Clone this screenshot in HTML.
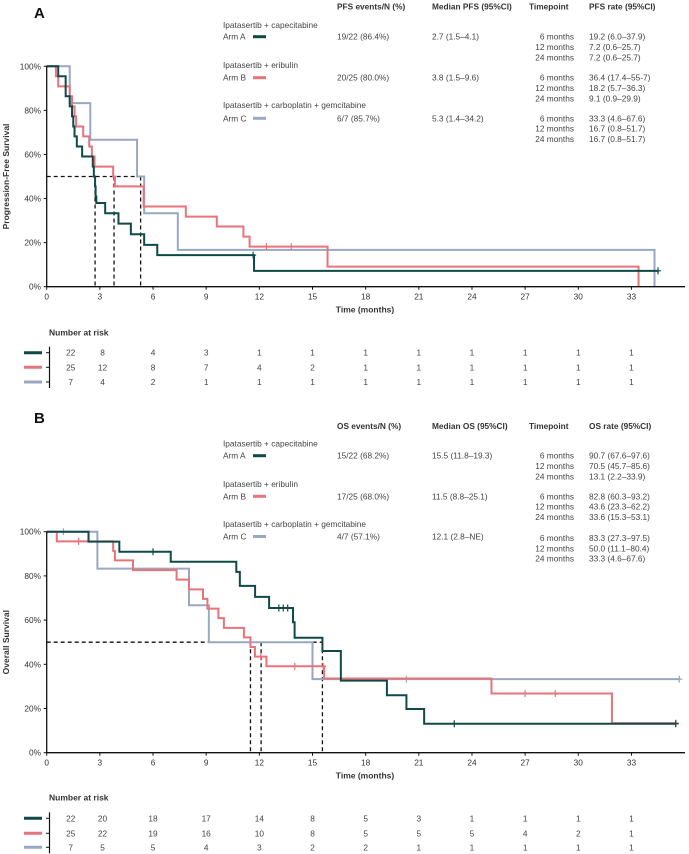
<!DOCTYPE html>
<html><head><meta charset="utf-8">
<style>
html,body{margin:0;padding:0;background:#fff;}
svg{display:block;font-family:"Liberation Sans",Arial,sans-serif;}
</style></head>
<body>
<svg id="fig" width="689" height="854" viewBox="0 0 689 854"></svg>
<script>
// ---------- DATA ----------
const xTicks = [0,3,6,9,12,15,18,21,24,27,30,33];
const yTicks = [0,20,40,60,80,100];
const riskMonths = [0.9,2.6,6,9,12,15,18,21,24,27,30,33];
const armNames = ["Arm A","Arm B","Arm C"];
const armLabels = ["Ipatasertib + capecitabine","Ipatasertib + eribulin","Ipatasertib + carboplatin + gemcitabine"];
const armColors = ["#0f4a47","#e8737b","#9aa7c2"];

// PFS step data: [time, survival after drop]
const pfsA = [[0,100],[0.65,95.5],[1.07,86.4],[1.3,81.8],[1.43,77.3],[1.5,72.7],[1.57,68.2],[1.7,63.6],[2.0,59.1],[2.6,54.5],[2.66,50],[2.73,45.5],[2.76,40.9],[2.8,38],[3.3,33.3],[4.05,28.6],[4.75,23.8],[5.5,19],[6.24,14.3],[11.7,7.2],[34.5,7.2]];
const pfsB = [[0,100],[0.52,95.5],[0.65,90.9],[1.3,86.4],[1.43,81.8],[1.57,77.3],[1.66,72.7],[2.06,68.2],[2.4,63.6],[2.55,59.1],[2.7,54.5],[3.75,50],[3.85,45.5],[5.47,36.4],[7.85,31.8],[9.6,27.3],[11.1,22.7],[11.45,18.2],[15.85,9.1],[33.4,0]];
const pfsC = [[0,100],[1.3,83.3],[2.46,66.7],[5.1,50],[5.5,33.3],[7.4,16.7],[34.3,0]];
const pfsCensA = [[11.65,14.3],[34.5,7.2]];
const pfsCensB = [[12.4,18.2],[13.8,18.2]];
const pfsCensC = [];
const pfsMedians = [2.73,3.8,5.3];
const pfsRiskA = [22,8,4,3,1,1,1,1,1,1,1,1];
const pfsRiskB = [25,12,8,7,4,2,1,1,1,1,1,1];
const pfsRiskC = [7,4,2,1,1,1,1,1,1,1,1,1];
const pfsEvents = ["19/22 (86.4%)","20/25 (80.0%)","6/7 (85.7%)"];
const pfsMedText = ["2.7 (1.5–4.1)","3.8 (1.5–9.6)","5.3 (1.4–34.2)"];
const pfsRates = [["19.2 (6.0–37.9)","7.2 (0.6–25.7)","7.2 (0.6–25.7)"],["36.4 (17.4–55-7)","18.2 (5.7–36.3)","9.1 (0.9–29.9)"],["33.3 (4.6–67.6)","16.7 (0.8–51.7)","16.7 (0.8–51.7)"]];

// OS step data
const osA = [[0,100],[2.36,95.5],[4.1,90.9],[7.0,86.4],[10.7,81.8],[10.9,75.5],[11.76,70.5],[12.55,65.5],[13.9,59],[13.99,52],[15.56,46],[16.6,32.6],[19.2,26],[20.3,19.8],[21.3,13.1],[35.5,13.1]];
const osB = [[0,100],[0.57,95.6],[3.75,91.3],[3.85,87],[4.87,82.6],[7.33,78.3],[8.03,73.9],[8.82,69.6],[9.07,65.2],[9.69,60.9],[10.0,56.5],[11.13,52.2],[11.5,47.8],[11.75,43.5],[12.4,39.1],[15.66,33.6],[25.1,26.8],[31.9,13.4],[35.5,13.4]];
const osC = [[0,100],[2.86,83.3],[8.03,66.7],[9.15,50],[15.0,33.3],[35.7,33.3]];
const osCensA = [[6.0,90.9],[13.1,65.5],[13.35,65.5],[13.6,65.5],[23.0,13.1],[35.5,13.1]];
const osCensB = [[1.8,95.6],[12.08,43.5],[14.0,39.1],[15.6,39.1],[27.0,26.8],[28.7,26.8],[35.5,13.4]];
const osCensC = [[0.94,100],[20.3,33.3],[35.7,33.3]];
const osMedians = [11.5,12.1,15.56];
const osRiskA = [22,20,18,17,14,8,5,3,1,1,1,1];
const osRiskB = [25,22,19,16,10,8,5,5,5,4,2,1];
const osRiskC = [7,5,5,4,3,2,2,1,1,1,1,1];
const osEvents = ["15/22 (68.2%)","17/25 (68.0%)","4/7 (57.1%)"];
const osMedText = ["15.5 (11.8–19.3)","11.5 (8.8–25.1)","12.1 (2.8–NE)"];
const osRates = [["90.7 (67.6–97.6)","70.5 (45.7–85.6)","13.1 (2.2–33.9)"],["82.8 (60.3–93.2)","43.6 (23.3–62.2)","33.6 (15.3–53.1)"],["83.3 (27.3–97.5)","50.0 (11.1–80.4)","33.3 (4.6–67.6)"]];
const timepoints = ["6 months","12 months","24 months"];

// ---------- DRAW ----------
const NS="http://www.w3.org/2000/svg";
const svg=document.getElementById('fig');
function mk(tag,attrs,parent,txt){const e=document.createElementNS(NS,tag);for(const k in attrs)e.setAttribute(k,attrs[k]);if(txt!==undefined)e.textContent=txt;(parent||svg).appendChild(e);return e;}

const X0=46.7, PXM=17.72;
function xs(m){return X0+m*PXM;}

function panel(cfg){
  const g=mk('g',{});
  
  
  const yTop=cfg.yTop, yBot=cfg.yBot;
  const ys=p=>yBot-(p/100)*(yBot-yTop);
  const L=mk('text',{x:34,y:cfg.letterY,'font-size':15,'font-weight':'bold',fill:'#111'},g,cfg.letter);
  
  
  const hdr=[[337,cfg.h1],[432,cfg.h2],[529,'Timepoint'],[589,cfg.h4]];
  hdr.forEach(h=>{const t=mk('text',{x:h[0],y:cfg.hdrY+3,'font-size':8.3,'font-weight':'bold',fill:'#333'},g,h[1]);
    
    });
  for(let i=0;i<3;i++){
    const ly=cfg.labelY[i], ay=cfg.armY[i], ry=cfg.rowY[i];
    const t1=mk('text',{x:223,y:ly+3,'font-size':8.3,fill:'#444'},g,armLabels[i]);
    
    
    const t2=mk('text',{x:223,y:ay+3,'font-size':8.3,fill:'#444'},g,armNames[i]);
    
    
    const ll=mk('line',{x1:253,x2:266,y1:ay,y2:ay,stroke:armColors[i],'stroke-width':3},g);
    
    
    const ev=mk('text',{x:337,y:ay+3,'font-size':8.3,fill:'#444'},g,cfg.events[i]);
    
    
    const md=mk('text',{x:432,y:ay+3,'font-size':8.3,fill:'#444'},g,cfg.med[i]);
    
    
    for(let k=0;k<3;k++){
      const yy=ry+k*10.3+3;
      const tp=mk('text',{x:574,y:yy,'font-size':8.3,fill:'#444','text-anchor':'end'},g,timepoints[k]);
      
      
      const rt=mk('text',{x:589,y:yy,'font-size':8.3,fill:'#444'},g,cfg.rates[i][k]);
      
      
    }
  }
  const mx=Math.max(...cfg.medians);
  const hl=mk('line',{x1:X0,x2:xs(mx),y1:ys(50),y2:ys(50),stroke:'#111','stroke-width':1.3,'stroke-dasharray':'4,3'},g);
  
  
  cfg.medians.forEach(m=>{const v=mk('line',{x1:xs(m),x2:xs(m),y1:ys(50),y2:yBot,stroke:'#111','stroke-width':1.3,'stroke-dasharray':'4,3'},g);
    
    });
  [2,1,0].forEach(i=>{
    const d=cfg.curves[i];
    let p='M'+xs(d[0][0])+','+ys(d[0][1]);
    for(let j=1;j<d.length;j++){p+=' H'+xs(d[j][0])+' V'+ys(d[j][1]);}
    const c=mk('path',{d:p,fill:'none',stroke:armColors[i],'stroke-width':2},g);
    
    
    cfg.cens[i].forEach(cp=>{
      const cx=xs(cp[0]),cy=ys(cp[1]);
      const m1=mk('path',{d:`M${cx-3},${cy} H${cx+3} M${cx},${cy-3.5} V${cy+3.5}`,stroke:armColors[i],'stroke-width':1.2,fill:'none'},g);
      
      
    });
  });
  const ax=mk('line',{x1:X0,x2:685,y1:yBot,y2:yBot,stroke:'#111','stroke-width':1.3},g);
  
  
  const ay=mk('line',{x1:X0,x2:X0,y1:yTop,y2:yBot,stroke:'#111','stroke-width':1.3},g);
  
  
  xTicks.forEach(t=>{
    mk('line',{x1:xs(t),x2:xs(t),y1:yBot,y2:yBot+3,stroke:'#111','stroke-width':1},g);
    const tl=mk('text',{x:xs(t),y:yBot+13,'font-size':8.3,fill:'#333','text-anchor':'middle'},g,String(t));
    
    
  });
  yTicks.forEach(t=>{
    mk('line',{x1:X0-3,x2:X0,y1:ys(t),y2:ys(t),stroke:'#111','stroke-width':1},g);
    const tl=mk('text',{x:41,y:ys(t)+3,'font-size':8.3,fill:'#333','text-anchor':'end'},g,t+'%');
    
    
  });
  const xt=mk('text',{x:365,y:yBot+26,'font-size':8.5,'font-weight':'bold',fill:'#333','text-anchor':'middle'},g,'Time (months)');
  
  
  const cy=(yTop+yBot)/2;
  const yt=mk('text',{x:9,y:cy,'font-size':8.5,'font-weight':'bold',fill:'#333','text-anchor':'middle',transform:`rotate(-90 9 ${cy})`},g,cfg.ytitle);
  
  
  const rh=mk('text',{x:49,y:cfg.riskHdrY+3,'font-size':8.5,'font-weight':'bold',fill:'#333'},g,'Number at risk');
  
  
  const br=mk('line',{x1:49.5,x2:49.5,y1:cfg.riskRowY[0]-6,y2:cfg.riskRowY[2]+6,stroke:'#111','stroke-width':1.2},g);
  
  
  for(let i=0;i<3;i++){
    const ry=cfg.riskRowY[i];
    const sw=mk('line',{x1:24,x2:42,y1:ry,y2:ry,stroke:armColors[i],'stroke-width':3},g);
    
    
    mk('line',{x1:46,x2:49.5,y1:ry,y2:ry,stroke:'#111','stroke-width':1},g);
    cfg.risk[i].forEach((v,k)=>{
      const rx=k===0?70.7:(k===1?102.5:xs(riskMonths[k]));
      const t=mk('text',{x:rx,y:ry+3,'font-size':8.3,fill:'#444','text-anchor':'middle'},g,String(v));
      
      
    });
  }
}

panel({name:'panel-a-pfs',letter:'A',letterY:18,yTop:66.3,yBot:286.7,hdrY:6.7,
  labelY:[25,65,105],armY:[36.7,77.7,118.3],rowY:[36.7,77.7,118.3],
  h1:'PFS events/N (%)',h2:'Median PFS (95%CI)',h4:'PFS rate (95%CI)',
  events:pfsEvents,med:pfsMedText,rates:pfsRates,medians:pfsMedians,
  curves:[pfsA,pfsB,pfsC],cens:[pfsCensA,pfsCensB,pfsCensC],
  ytitle:'Progression-Free Survival',riskHdrY:332.3,riskRowY:[352.7,367.3,382],
  risk:[pfsRiskA,pfsRiskB,pfsRiskC]});
panel({name:'panel-b-os',letter:'B',letterY:423,yTop:531.7,yBot:752.7,hdrY:426,
  labelY:[443.7,484,524],armY:[455.7,496.3,536.5],rowY:[455.7,496.3,538],
  h1:'OS events/N (%)',h2:'Median OS (95%CI)',h4:'OS rate (95%CI)',
  events:osEvents,med:osMedText,rates:osRates,medians:osMedians,
  curves:[osA,osB,osC],cens:[osCensA,osCensB,osCensC],
  ytitle:'Overall Survival',riskHdrY:797.3,riskRowY:[818.3,833.3,847.3],
  risk:[osRiskA,osRiskB,osRiskC]});
</script>
</body></html>
